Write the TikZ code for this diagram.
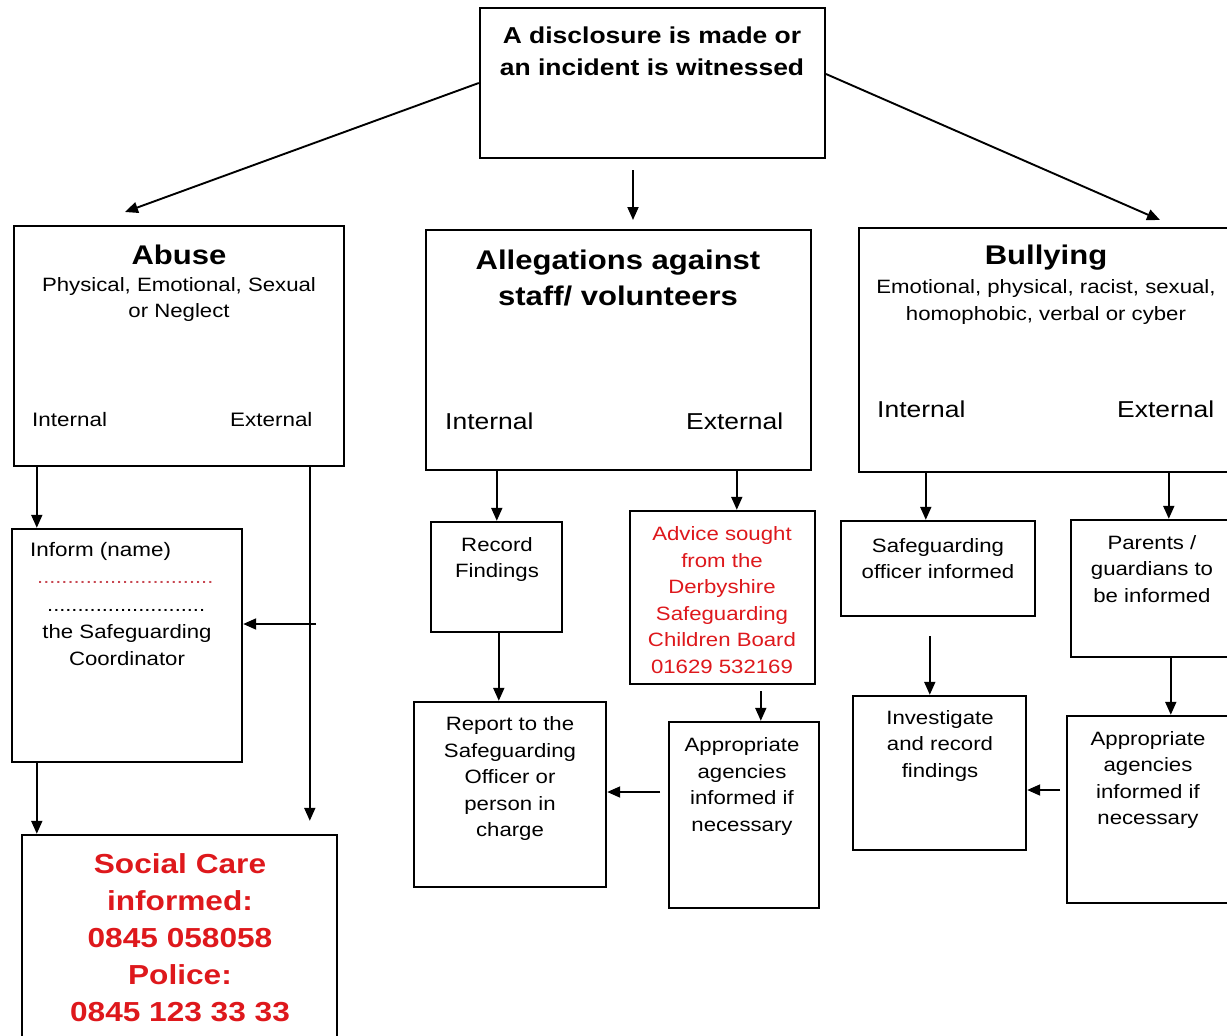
\documentclass[tikz,border=0pt]{standalone}
\usepackage{fontspec}
\setmainfont{Liberation Sans}[FakeStretch=1.15]
\usetikzlibrary{fit,arrows.meta}
\definecolor{alertred}{RGB}{222,24,28}
\definecolor{dotred}{RGB}{200,70,80}
\begin{document}
\begin{tikzpicture}[x=1pt,y=-1pt,
  box/.style={draw=black,line width=2.4pt,inner sep=0pt,fill=none},
  arr/.style={draw=black,line width=1.9pt,-{Triangle[length=13pt,width=11pt]}},
  txt/.style={align=center,inner sep=0pt,font=\fontsize{19.3}{26.5}\selectfont},
  redtxt/.style={txt,text=alertred},
  ttl/.style={align=center,inner sep=0pt,font=\fontsize{27}{36}\selectfont\bfseries},
  lbl/.style={inner sep=0pt,anchor=west,font=\fontsize{23}{28}\selectfont},
  slbl/.style={inner sep=0pt,anchor=west,font=\fontsize{19.5}{24}\selectfont}]
\fill[white] (0,0) rectangle (1227,1036);
\useasboundingbox (0,0) rectangle (1227,1036);

% ---- boxes ----
\node[box,fit={(480,8)(825,158)}] (top) {};
\node[box,fit={(14,226)(344,466)}] (abuse) {};
\node[box,fit={(12,529)(242,762)}] (inform) {};
\node[box,fit={(22,835)(337,1060)}] (social) {};
\node[box,fit={(426,230)(811,470)}] (alleg) {};
\node[box,fit={(431,522)(562,632)}] (record) {};
\node[box,fit={(630,511)(815,684)}] (advice) {};
\node[box,fit={(414,702)(606,887)}] (report) {};
\node[box,fit={(669,722)(819,908)}] (approp) {};
\node[box,fit={(859,228)(1240,472)}] (bully) {};
\node[box,fit={(841,521)(1035,616)}] (sofficer) {};
\node[box,fit={(1071,520)(1240,657)}] (parents) {};
\node[box,fit={(853,696)(1026,850)}] (invest) {};
\node[box,fit={(1067,716)(1240,903)}] (approptwo) {};

% ---- texts ----
\node[align=center,inner sep=0pt,font=\fontsize{23}{32}\selectfont\bfseries] (toptext) at (652,51) {A disclosure is made or\\an incident is witnessed};

\node[ttl] (abusettl) at (179,255) {Abuse};
\node[txt] (abusesub) at (179,299.5) {Physical, Emotional, Sexual\\or Neglect};
\node[slbl] (abuseint) at (32,420) {Internal};
\node[slbl] (abuseext) at (230,420) {External};

\node[slbl,anchor=west] (informtxt) at (30,551) {Inform (name)};
\node[inner sep=0pt,anchor=base west,text=dotred,font=\fontsize{19}{24}\selectfont] (dotsone) at (37,583) {.............................};
\node[inner sep=0pt,anchor=base west,font=\fontsize{19}{24}\selectfont] (dotstwo) at (47,611) {..........................};
\node[txt] (coord) at (127,645) {the Safeguarding\\Coordinator};

\node[align=center,inner sep=0pt,text=alertred,font=\fontsize{27.5}{37}\selectfont\bfseries] (socialtxt) at (180,938) {Social Care\\informed:\\0845 058058\\Police:\\0845 123 33 33};

\node[ttl] (allegttl) at (618,278) {Allegations against\\staff/ volunteers};
\node[lbl] (allegint) at (445,421) {Internal};
\node[lbl] (allegext) at (686,421) {External};

\node[txt] (recordtxt) at (497,559.5) {Record\\Findings};
\node[redtxt] (advicetxt) at (722,600) {Advice sought\\from the\\Derbyshire\\Safeguarding\\Children Board\\01629 532169};
\node[txt] (reporttxt) at (510,779) {Report to the\\Safeguarding\\Officer or\\person in\\charge};
\node[txt] (approptxt) at (742,786.5) {Appropriate\\agencies\\informed if\\necessary};

\node[ttl] (bullyttl) at (1046,258) {Bullying};
\node[txt] (bullysub) at (1046,302) {Emotional, physical, racist, sexual,\\homophobic, verbal or cyber};
\node[lbl] (bullyint) at (877,409) {Internal};
\node[lbl] (bullyext) at (1117,409) {External};

\node[txt] (sofficertxt) at (938,558.5) {Safeguarding\\officer informed};
\node[txt] (parentstxt) at (1152,569) {Parents /\\guardians to\\be informed};
\node[txt] (investtxt) at (940,746) {Investigate\\and record\\findings};
\node[txt] (approptwotxt) at (1148,780) {Appropriate\\agencies\\informed if\\necessary};

% ---- free ends ----
\coordinate (ca) at (125,212);
\coordinate (cb1) at (633,170);
\coordinate (cb2) at (633,220);
\coordinate (cc1) at (826,74);
\coordinate (cc2) at (1160,220);
\coordinate (j1) at (316,624);
\coordinate (h1) at (660,792);
\coordinate (h2) at (1060,790);

% ---- connectors ----
\draw[arr] (top.west) -- (ca);
\draw[arr] (cb1) -- (cb2);
\draw[arr] (cc1) -- (cc2);

\draw[arr] ([xshift=24pt]abuse.south west) -- ([xshift=26pt]inform.north west);
\draw[arr] ([xshift=297pt]abuse.south west) -- ([xshift=289pt,yshift=13pt]social.north west);
\draw[arr] (j1) -- (j1 -| inform.east);
\draw[arr] ([xshift=26pt]inform.south west) -- ([xshift=16pt]social.north west);

\draw[arr] ([xshift=72pt]alleg.south west) -- ([xshift=67pt]record.north west);
\draw[arr] ([xshift=312pt]alleg.south west) -- ([xshift=108pt]advice.north west);
\draw[arr] ([xshift=69pt]record.south west) -- ([xshift=86pt]report.north west);
\draw[arr] ([xshift=132pt,yshift=-6pt]advice.south west) -- ([xshift=93pt]approp.north west);
\draw[arr] (h1) -- (h1 -| report.east);

\draw[arr] ([xshift=68pt]bully.south west) -- ([xshift=86pt]sofficer.north west);
\draw[arr] ([xshift=311pt]bully.south west) -- ([xshift=99pt]parents.north west);
\draw[arr] ([xshift=90pt,yshift=-19pt]sofficer.south west) -- ([xshift=78pt]invest.north west);
\draw[arr] ([xshift=101pt]parents.south west) -- ([xshift=105pt]approptwo.north west);
\draw[arr] (h2) -- (h2 -| invest.east);
\end{tikzpicture}
\end{document}
